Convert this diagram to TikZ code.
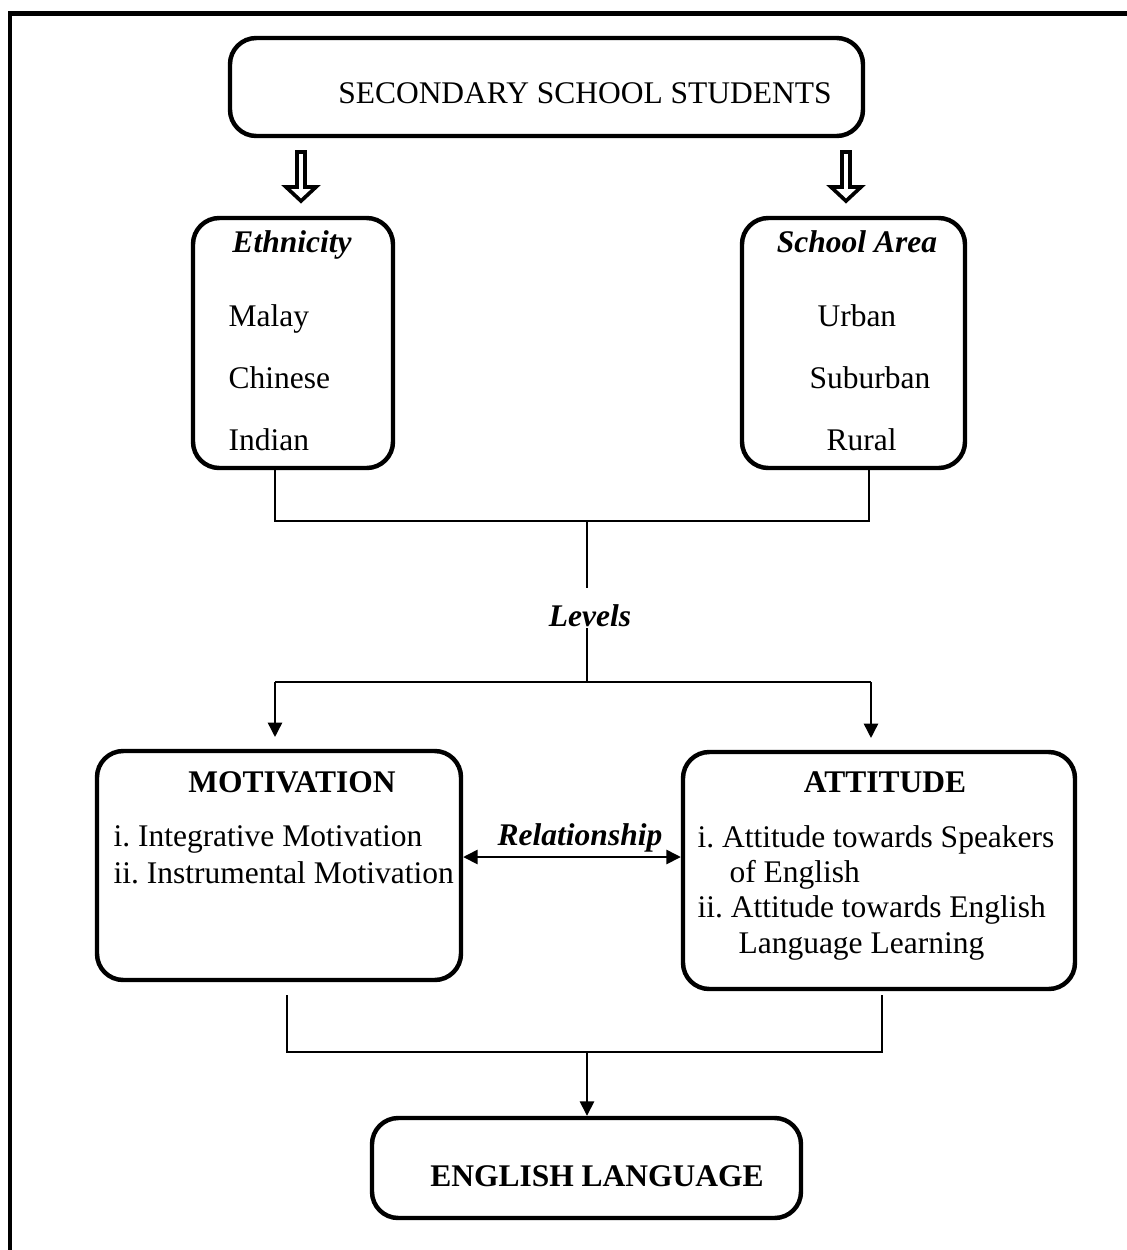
\documentclass[tikz,border=0pt]{standalone}
\usepackage{fontspec}
\setmainfont{Liberation Serif}
\usetikzlibrary{arrows.meta}
\newcommand{\pxl}{0.381pt}
\frenchspacing

\begin{document}
\begin{tikzpicture}[x=\pxl, y=-\pxl, font=\fontsize{12pt}{14pt}\selectfont, >={Triangle[length=5.5pt, width=5.5pt]}]

    % --- Definition der Stile ---
    \tikzset{
        block/.style={rectangle, rounded corners=10pt, draw=black, line width=1.7pt, inner sep=0pt},
        conn/.style={line width=0.6pt},
        item/.style={anchor=base west, inner sep=0pt},
        heading/.style={anchor=base, inner sep=0pt, font=\fontsize{12pt}{14pt}\selectfont\bfseries\itshape},
        caps/.style={anchor=base, inner sep=0pt, font=\fontsize{12pt}{14pt}\selectfont\bfseries},
        hollowdown/.pic={
            \draw[line width=1.4pt, miter limit=10] (-4,0) -- (-4,35) -- (-15,35) -- (0,49)
                -- (15,35) -- (4,35) -- (4,0) -- cycle;
        }
    }

    \useasboundingbox (0,0) rectangle (1127,1250);

    % --- Rahmen ---
    \draw[line width=1.9pt] (10,1250) -- (10,13.5) -- (1127,13.5);

    % --- Positionierung der Bloecke ---
    \node[block, minimum width=633*\pxl, minimum height=98*\pxl]  (sss)  at (546.5,87)   {};
    \node[block, minimum width=200*\pxl, minimum height=250*\pxl] (eth)  at (293,343)    {};
    \node[block, minimum width=223*\pxl, minimum height=250*\pxl] (area) at (853.5,343)  {};
    \node[block, minimum width=364*\pxl, minimum height=229*\pxl] (mot)  at (279,865.5)  {};
    \node[block, minimum width=392*\pxl, minimum height=237*\pxl] (att)  at (879,870.5)  {};
    \node[block, minimum width=429*\pxl, minimum height=100*\pxl] (eng)  at (586.5,1168) {};

    % --- Texte ---
    \node[anchor=base, inner sep=0pt] (ssst) at (585,103) {SECONDARY SCHOOL STUDENTS};

    \node[heading] (etht) at (292,252) {Ethnicity};
    \node[item] (malay)   at (228,326) {Malay};
    \node[item] (chinese) at (228,388) {Chinese};
    \node[item] (indian)  at (228,450) {Indian};

    \node[heading] (areat) at (857,252) {School Area};
    \node[item] (urban)    at (817,326) {Urban};
    \node[item] (suburban) at (809,388) {Suburban};
    \node[item] (rural)    at (826,450) {Rural};

    \node[heading] (levels) at (590,626) {Levels};

    \node[caps] (mott) at (292,792) {MOTIVATION};
    \node[item] (m1t) at (113,846) {i. Integrative Motivation};
    \node[item] (m2t) at (113,883) {ii. Instrumental Motivation};

    \node[caps] (attt) at (885,792) {ATTITUDE};
    \node[item] (a1t)  at (697,847) {i. Attitude towards Speakers};
    \node[item] (a1bt) at (729,882) {of English};
    \node[item] (a2t)  at (697,917) {ii. Attitude towards English};
    \node[item] (a2bt) at (738,953) {Language Learning};

    \node[heading] (rel) at (580,845) {Relationship};

    \node[caps] (engt) at (597,1186) {ENGLISH LANGUAGE};

    % --- Hohlpfeile ---
    \pic (arrl) at (301,152) {hollowdown};
    \pic (arrr) at (846,152) {hollowdown};

    % --- Verbindungen ---
    \coordinate (b1l) at (275,521);
    \coordinate (b1m) at (587,521);
    \coordinate (b1r) at (869,521);
    \coordinate (lvtop) at (587,588);
    \coordinate (lvbot) at (587,628);
    \coordinate (b2l) at (275,682);
    \coordinate (b2m) at (587,682);
    \coordinate (b2r) at (871,682);

    \draw[conn] (eth.south -| b1l) -- (b1l) -- (b1r) -- (area.south -| b1r);
    \draw[conn] (b1m) -- (lvtop);
    \draw[conn] (lvbot) -- (b2m);
    \draw[conn] (b2l) -- (b2r);
    \draw[conn, ->, shorten >=4.5pt] (b2l) -- (mot.north -| b2l);
    \draw[conn, ->, shorten >=4.5pt] (b2r) -- (att.north -| b2r);

    % Relationship
    \coordinate (relm) at (572,857);
    \draw[conn, <->] (mot.east |- relm) -- (att.west |- relm);

    % zum Sprachblock
    \coordinate (m1) at (287,995);
    \coordinate (a1) at (882,995);
    \coordinate (b3l) at (287,1052);
    \coordinate (b3m) at (587,1052);
    \coordinate (b3r) at (882,1052);
    \draw[conn] (m1) -- (b3l) -- (b3r) -- (a1);
    \draw[conn, ->] (b3m) -- (eng.north -| b3m);

\end{tikzpicture}
\end{document}
